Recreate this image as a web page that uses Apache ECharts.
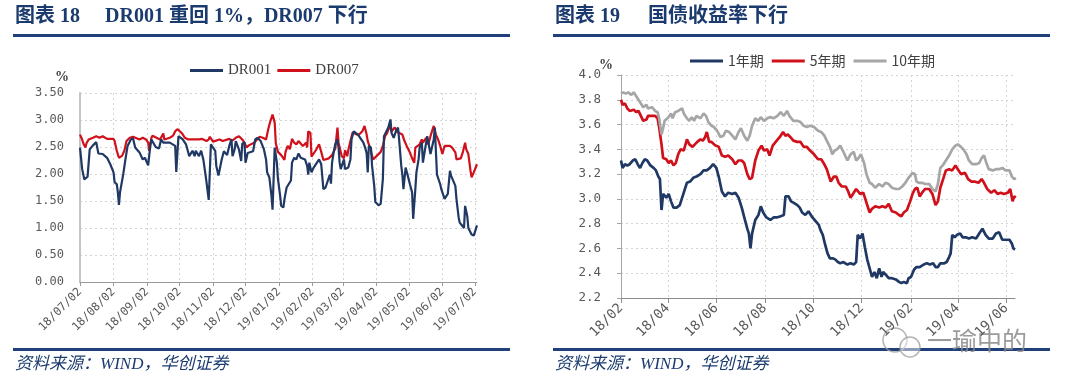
<!DOCTYPE html>
<html><head><meta charset="utf-8">
<script src="https://cdn.jsdelivr.net/npm/echarts@6/dist/echarts.min.js"></script>
<style>html,body{margin:0;padding:0;background:#fff;}#c{width:1080px;height:389px;}</style>
</head><body><div id="c"></div>
<script>
// ---------- Left chart: DR001 / DR007 (x = days since 2018-07-02) ----------
const drTickLabels = ['18/07/02','18/08/02','18/09/02','18/10/02','18/11/02','18/12/02','19/01/02','19/02/02','19/03/02','19/04/02','19/05/02','19/06/02','19/07/02'];
const dr001Days = [0,2,4,7,9,12,15,17,21,25,28,31,32,34,35,36,37,40,42,44,47,49,51,55,58,60,63,65,66,70,73,75,77,83,88,89,91,92,95,98,101,104,106,107,110,112,114,116,117,119,121,125,126,128,131,133,136,138,140,141,143,144,147,149,150,152,153,155,160,162,164,167,170,172,173,175,177,178,180,182,183,185,186,188,189,191,195,196,198,200,202,204,208,210,211,212,214,216,221,223,225,227,229,231,232,233,235,236,238,239,240,241,244,245,248,250,251,253,257,259,262,264,265,266,267,269,270,272,273,276,278,280,281,282,285,287,288,290,292,294,295,297,298,299,301,303,305,307,308,310,311,313,314,316,317,319,321,322,324,325,327,328,330,333,334,337,340,342,343,347,348,350,351,353,355,356,358,359,360,362,364,367];
const dr001Vals = [2.49,2.09,1.90,1.95,2.46,2.53,2.59,2.38,2.37,2.30,2.18,2.03,1.85,1.81,1.66,1.43,1.66,2.00,2.27,2.52,2.64,2.66,2.49,2.40,2.27,2.30,2.16,2.52,2.64,2.50,2.47,2.64,2.58,2.58,2.52,2.04,2.70,2.73,2.64,2.55,2.33,2.43,2.33,2.43,2.33,2.43,2.27,1.99,1.84,1.52,2.55,2.43,2.15,1.97,2.27,2.42,2.35,2.52,2.64,2.33,2.46,2.61,2.45,2.24,2.56,2.59,2.21,2.39,2.42,2.64,2.67,2.61,2.46,2.27,2.03,1.94,1.60,1.34,2.49,2.21,1.91,1.60,1.41,1.38,1.53,1.75,1.88,2.21,2.30,2.27,2.38,2.30,2.27,2.15,1.99,2.21,2.03,2.12,2.27,2.18,1.72,1.75,1.87,1.99,1.82,2.21,2.46,2.55,2.64,2.49,2.21,2.09,2.27,2.09,2.12,2.27,2.64,2.79,2.73,2.67,2.58,2.46,2.38,2.03,2.52,2.49,2.15,1.78,1.48,1.42,1.45,1.91,2.70,2.73,2.86,3.01,2.76,2.67,2.79,2.86,2.64,2.15,1.99,1.72,2.12,1.97,1.81,1.66,1.17,1.72,2.03,2.27,2.49,2.58,2.21,2.46,2.70,2.70,2.37,2.46,2.64,2.86,1.99,1.81,1.72,1.54,1.63,2.06,1.97,1.78,1.54,1.20,1.10,1.05,1.00,1.41,1.22,1.00,0.96,0.88,0.86,1.05];
const dr007Days = [0,2,3,5,6,8,12,15,18,21,25,31,32,34,36,39,41,43,46,49,55,58,61,63,64,66,67,74,77,78,83,86,88,90,94,97,100,110,113,117,119,120,123,129,132,138,141,144,147,150,152,154,156,161,166,169,172,174,176,178,180,181,183,186,189,190,192,194,196,198,200,202,206,209,210,211,213,214,218,221,223,225,230,233,236,238,239,242,244,245,247,248,250,252,256,258,261,263,265,266,268,271,272,275,278,280,282,284,286,288,291,293,298,300,302,305,307,309,310,314,316,317,320,322,324,327,329,331,333,335,337,342,344,347,348,352,354,356,357,359,361,362,364,367];
const dr007Vals = [2.73,2.64,2.57,2.49,2.57,2.64,2.67,2.70,2.67,2.70,2.65,2.65,2.61,2.43,2.30,2.34,2.43,2.61,2.67,2.69,2.64,2.67,2.64,2.58,2.43,2.67,2.71,2.64,2.75,2.64,2.67,2.71,2.79,2.83,2.76,2.67,2.64,2.64,2.65,2.61,2.64,2.69,2.60,2.64,2.61,2.65,2.62,2.67,2.70,2.64,2.58,2.49,2.53,2.58,2.69,2.67,2.64,2.83,2.98,3.10,2.95,2.57,2.41,2.35,2.26,2.41,2.52,2.46,2.65,2.58,2.55,2.61,2.52,2.58,2.49,2.79,2.76,2.32,2.44,2.55,2.41,2.26,2.29,2.35,2.47,2.86,2.58,2.33,2.29,2.44,2.33,2.44,2.61,2.77,2.73,2.73,2.79,2.89,2.73,2.61,2.49,2.27,2.26,2.35,2.41,2.52,2.70,2.76,2.89,2.79,2.86,2.78,2.73,2.61,2.52,2.40,2.29,2.21,2.49,2.55,2.64,2.58,2.67,2.55,2.70,2.89,2.73,2.64,2.52,2.37,2.52,2.52,2.49,2.40,2.27,2.29,2.41,2.58,2.46,2.37,2.06,1.94,2.03,2.18];

// ---------- Right chart: bond yields (x = days since 2018-02-01) ----------
const bondTickLabels = ['18/02','18/04','18/06','18/08','18/10','18/12','19/02','19/04','19/06'];
const y1Days = [0,2,5,8,11,15,18,21,24,27,30,33,37,41,44,47,49,51,53,57,60,63,66,70,74,79,83,87,91,95,100,104,108,112,116,120,123,127,131,135,140,144,148,152,156,159,161,163,165,169,171,173,176,179,183,188,192,196,201,205,207,211,214,217,222,225,228,232,236,241,245,249,251,254,257,260,263,267,270,273,276,280,285,289,293,296,298,301,304,307,310,313,316,319,322,325,328,330,333,337,341,346,350,353,356,360,362,365,369,372,376,381,385,389,393,396,399,402,407,410,413,415,417,420,423,427,430,434,438,442,447,451,455,459,463,468,472,476,480,484,489,492,494,496];
const y1Vals = [3.31,3.25,3.28,3.27,3.28,3.31,3.32,3.28,3.25,3.29,3.32,3.31,3.27,3.25,3.23,3.18,3.16,2.91,3.04,3.01,3.04,2.98,2.93,2.93,2.95,3.05,3.13,3.14,3.17,3.18,3.20,3.23,3.23,3.25,3.28,3.25,3.18,3.06,3.02,3.05,3.04,3.05,3.01,2.93,2.83,2.76,2.72,2.60,2.72,2.83,2.85,2.87,2.94,2.89,2.85,2.83,2.85,2.85,2.86,2.87,3.02,3.02,2.98,2.97,2.95,2.93,2.89,2.87,2.90,2.85,2.82,2.79,2.75,2.71,2.63,2.56,2.52,2.52,2.51,2.49,2.48,2.49,2.47,2.48,2.47,2.49,2.71,2.68,2.72,2.61,2.51,2.44,2.37,2.41,2.36,2.44,2.37,2.41,2.39,2.36,2.36,2.35,2.33,2.32,2.33,2.32,2.36,2.37,2.43,2.45,2.45,2.47,2.48,2.47,2.48,2.45,2.45,2.48,2.48,2.49,2.53,2.56,2.71,2.69,2.71,2.72,2.69,2.69,2.68,2.69,2.68,2.72,2.76,2.71,2.68,2.68,2.72,2.73,2.67,2.67,2.67,2.64,2.60,2.59];
const y5Days = [0,2,5,8,11,16,19,22,25,28,32,34,39,43,46,48,51,53,57,60,63,66,69,72,75,79,83,86,90,93,96,100,103,106,108,111,114,119,123,127,131,135,140,144,148,152,155,159,162,165,169,173,177,180,184,187,191,196,200,204,207,210,213,217,222,226,230,234,238,243,248,252,255,259,262,264,268,271,274,278,283,286,289,293,296,301,305,309,313,316,320,325,329,333,337,341,346,350,353,356,360,364,367,370,373,376,379,383,388,392,396,399,402,406,409,413,417,421,424,428,433,437,441,445,450,454,457,461,466,470,474,478,482,487,490,493,495,497];
const y5Vals = [3.80,3.76,3.77,3.73,3.71,3.72,3.70,3.71,3.67,3.63,3.64,3.67,3.67,3.67,3.65,3.58,3.44,3.33,3.32,3.29,3.31,3.27,3.29,3.36,3.40,3.39,3.48,3.44,3.42,3.44,3.46,3.48,3.47,3.50,3.54,3.46,3.46,3.43,3.42,3.35,3.34,3.35,3.32,3.28,3.31,3.31,3.29,3.20,3.16,3.17,3.31,3.39,3.43,3.39,3.40,3.35,3.43,3.47,3.50,3.54,3.51,3.52,3.50,3.47,3.46,3.46,3.42,3.42,3.39,3.36,3.32,3.32,3.29,3.24,3.18,3.14,3.18,3.18,3.13,3.10,3.10,3.06,3.01,3.05,3.08,3.04,3.05,2.97,2.89,2.92,2.94,2.93,2.94,2.93,2.96,2.90,2.89,2.87,2.86,2.89,2.91,2.98,3.04,3.08,3.09,3.02,3.05,3.08,3.08,3.04,2.95,2.98,3.09,3.17,3.23,3.24,3.23,3.27,3.24,3.20,3.21,3.16,3.14,3.14,3.13,3.16,3.13,3.08,3.05,3.07,3.04,3.05,3.04,3.05,3.08,2.98,3.02,3.01];
const y10Days = [0,3,6,9,13,16,20,24,28,32,34,39,43,46,48,51,53,55,60,63,65,68,72,77,79,83,86,89,92,95,100,104,107,110,114,117,121,125,129,132,136,140,144,148,151,155,159,162,165,169,173,176,180,184,188,192,197,201,205,209,212,217,222,226,230,234,238,243,248,252,256,259,263,266,269,272,276,280,285,289,293,296,299,302,306,309,313,316,320,325,329,333,337,341,346,350,354,358,362,367,370,372,375,379,383,388,392,396,399,402,405,409,413,417,421,424,428,431,435,438,442,447,451,454,457,460,463,468,472,476,480,484,489,492,495,497];
const y10Vals = [3.85,3.86,3.85,3.86,3.84,3.86,3.82,3.78,3.74,3.76,3.73,3.74,3.71,3.70,3.65,3.52,3.57,3.63,3.66,3.69,3.65,3.70,3.71,3.73,3.69,3.65,3.63,3.66,3.63,3.67,3.65,3.69,3.67,3.62,3.59,3.58,3.55,3.50,3.51,3.55,3.54,3.51,3.48,3.54,3.57,3.51,3.47,3.51,3.59,3.65,3.63,3.66,3.63,3.65,3.66,3.65,3.67,3.70,3.67,3.71,3.67,3.63,3.63,3.62,3.59,3.58,3.59,3.58,3.55,3.54,3.51,3.47,3.42,3.36,3.39,3.40,3.43,3.38,3.31,3.36,3.38,3.31,3.33,3.36,3.29,3.20,3.13,3.12,3.09,3.12,3.10,3.13,3.12,3.09,3.08,3.08,3.10,3.13,3.17,3.21,3.20,3.14,3.13,3.13,3.12,3.12,3.08,3.06,3.12,3.25,3.27,3.31,3.35,3.40,3.43,3.44,3.42,3.40,3.36,3.31,3.28,3.28,3.29,3.33,3.35,3.29,3.24,3.23,3.24,3.24,3.25,3.23,3.23,3.18,3.16,3.17];

// ---------- helpers ----------
const DAY = 86400000;
function dayOffset(base, d) { return Math.round((d - base) / DAY); }
const drBase = new Date(2018, 6, 2);
const drTickDays = drTickLabels.map(function (s) {
  const p = s.split('/');
  return dayOffset(drBase, new Date(2000 + (+p[0]), (+p[1]) - 1, +p[2]));
});
const bondBase = new Date(2018, 1, 1);
const bondTickDays = bondTickLabels.map(function (s) {
  const p = s.split('/');
  return dayOffset(bondBase, new Date(2000 + (+p[0]), (+p[1]) - 1, 1));
});
function zip(xs, ys) { return xs.map(function (x, i) { return [x, ys[i]]; }); }
function labelFor(ticks, labels) {
  return function (v) { const i = ticks.indexOf(Math.round(v)); return i >= 0 ? labels[i] : ''; };
}

const NAVY = '#1f3864', RED = '#d0101a', GRAY = '#a6a6a6';
const TITLE_C = '#1b3b6f', RULE_C = '#1f4079';
const MONO = 'DejaVu Sans Mono';
const TFONT = 'bold 20px "Liberation Serif", "Noto Sans CJK SC"';
const gridLine = { show: true, lineStyle: { type: [2, 3], color: '#d4d4d4', width: 1 } };

const chart = echarts.init(document.getElementById('c'), null, { renderer: 'canvas' });
chart.setOption({
  animation: false,
  backgroundColor: '#fff',
  grid: [
    { left: 80, top: 93, width: 397, height: 189 },
    { left: 621, top: 75, width: 394, height: 223 }
  ],
  legend: [
    { data: ['DR001', 'DR007'], left: 185, top: 58, icon: 'rect', itemWidth: 33, itemHeight: 3, itemGap: 6,
      textStyle: { fontFamily: 'Liberation Serif', fontSize: 15, color: '#404040' } },
    { data: ['1年期', '5年期', '10年期'], left: 685, top: 49, icon: 'rect', itemWidth: 33, itemHeight: 3, itemGap: 8,
      textStyle: { fontFamily: 'Noto Sans CJK SC', fontSize: 14, color: '#404040' } }
  ],
  xAxis: [
    { type: 'value', gridIndex: 0, min: 0, max: 367,
      axisLine: { show: true, onZero: false, lineStyle: { color: '#9a9a9a', width: 1 } },
      axisTick: { show: true, customValues: drTickDays, length: 4, lineStyle: { color: '#9a9a9a' } },
      axisLabel: { customValues: drTickDays, rotate: 45, margin: 8, fontFamily: MONO, fontSize: 11.5, color: '#595959',
        formatter: labelFor(drTickDays, drTickLabels) },
      splitLine: gridLine },
    { type: 'value', gridIndex: 1, min: 0, max: 496,
      axisLine: { show: true, onZero: false, lineStyle: { color: '#8c8c8c', width: 1 } },
      axisTick: { show: true, customValues: bondTickDays, length: 5, lineStyle: { color: '#8c8c8c' } },
      axisLabel: { customValues: bondTickDays, rotate: 45, margin: 8, fontFamily: MONO, fontSize: 13.5, color: '#595959',
        formatter: labelFor(bondTickDays, bondTickLabels) },
      splitLine: gridLine }
  ],
  yAxis: [
    { type: 'value', gridIndex: 0, min: 0, max: 3.5, interval: 0.5,
      axisLine: { show: true, lineStyle: { color: '#c4c4c4', width: 2 } },
      axisTick: { show: false },
      axisLabel: { margin: 16, fontFamily: MONO, fontSize: 12, color: '#595959', formatter: function (v) { return v.toFixed(2); } },
      splitLine: gridLine },
    { type: 'value', gridIndex: 1, min: 2.2, max: 4.0, interval: 0.2,
      axisLine: { show: true, lineStyle: { color: '#a6a6a6', width: 1 } },
      axisTick: { show: true, length: 4, lineStyle: { color: '#a6a6a6' } },
      axisLabel: { margin: 20, fontFamily: MONO, fontSize: 12.5, color: '#595959', formatter: function (v) { return v.toFixed(1); } },
      splitLine: gridLine }
  ],
  series: [
    { name: 'DR001', type: 'line', xAxisIndex: 0, yAxisIndex: 0, data: zip(dr001Days, dr001Vals), showSymbol: false,
      lineStyle: { color: NAVY, width: 2.2 }, itemStyle: { color: NAVY }, z: 3 },
    { name: 'DR007', type: 'line', xAxisIndex: 0, yAxisIndex: 0, data: zip(dr007Days, dr007Vals), showSymbol: false,
      lineStyle: { color: RED, width: 2.2 }, itemStyle: { color: RED }, z: 2 },
    { name: '1年期', type: 'line', xAxisIndex: 1, yAxisIndex: 1, data: zip(y1Days, y1Vals), showSymbol: false,
      lineStyle: { color: NAVY, width: 2.7 }, itemStyle: { color: NAVY } },
    { name: '5年期', type: 'line', xAxisIndex: 1, yAxisIndex: 1, data: zip(y5Days, y5Vals), showSymbol: false,
      lineStyle: { color: RED, width: 2.7 }, itemStyle: { color: RED } },
    { name: '10年期', type: 'line', xAxisIndex: 1, yAxisIndex: 1, data: zip(y10Days, y10Vals), showSymbol: false,
      lineStyle: { color: GRAY, width: 2.7 }, itemStyle: { color: GRAY } }
  ],
  graphic: [
    { type: 'text', left: 15, top: 7, style: { text: '图表 18', fill: TITLE_C, font: TFONT } },
    { type: 'text', left: 105, top: 7, style: { text: 'DR001 重回 1%，DR007 下行', fill: TITLE_C, font: TFONT } },
    { type: 'text', left: 555, top: 7, style: { text: '图表 19', fill: TITLE_C, font: TFONT } },
    { type: 'text', left: 648, top: 7, style: { text: '国债收益率下行', fill: TITLE_C, font: TFONT } },
    { type: 'rect', shape: { x: 13, y: 34, width: 497, height: 3 }, style: { fill: RULE_C } },
    { type: 'rect', shape: { x: 553, y: 34, width: 497, height: 3 }, style: { fill: RULE_C } },
    { type: 'rect', shape: { x: 13, y: 348, width: 497, height: 3 }, style: { fill: RULE_C } },
    { type: 'rect', shape: { x: 553, y: 348, width: 497, height: 3 }, style: { fill: RULE_C } },
    { type: 'text', left: 15, top: 356, style: { text: '资料来源：WIND，华创证券', fill: TITLE_C,
      font: 'italic 17px "Liberation Serif", "Noto Sans CJK SC"' } },
    { type: 'text', left: 555, top: 356, style: { text: '资料来源：WIND，华创证券', fill: TITLE_C,
      font: 'italic 17px "Liberation Serif", "Noto Sans CJK SC"' } },
    { type: 'text', left: 55, top: 70, style: { text: '%', fill: '#404040', font: 'bold 14px "Liberation Serif"' } },
    { type: 'text', left: 599, top: 58, style: { text: '%', fill: '#404040', font: 'bold 14px "Liberation Serif"' } },
    { type: 'circle', shape: { cx: 895, cy: 340, r: 12 }, style: { fill: 'none', stroke: '#a0a0a0', lineWidth: 1.5, opacity: 0.8 } },
    { type: 'circle', shape: { cx: 910, cy: 347, r: 10 }, style: { fill: 'rgba(255,255,255,0.6)', stroke: '#a0a0a0', lineWidth: 1.5, opacity: 0.8 } },
    { type: 'text', left: 927, top: 328, style: { text: '一瑜中的', fill: '#8a8a8a', opacity: 0.85,
      font: '25px "Noto Sans CJK SC"' } }
  ]
});
</script>
</body></html>
